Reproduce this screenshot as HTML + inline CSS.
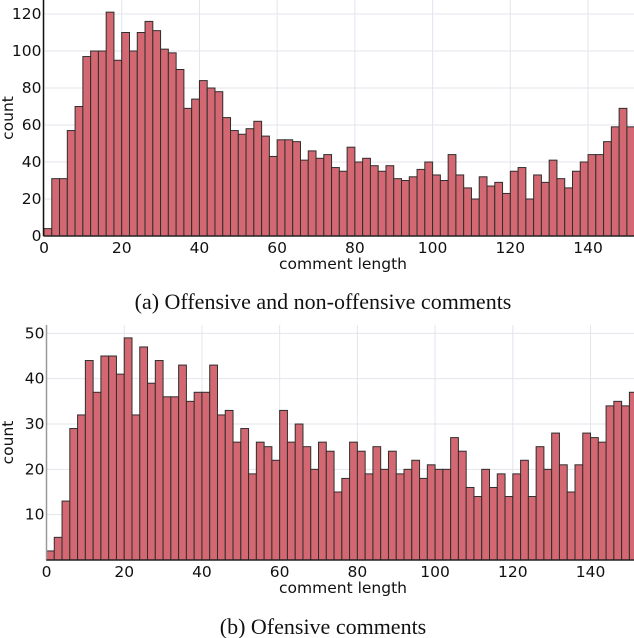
<!DOCTYPE html>
<html><head><meta charset="utf-8"><style>
body{margin:0;background:#fff;width:634px;height:638px;overflow:hidden}
svg{display:block}
.t{font-family:"DejaVu Sans","Liberation Sans",sans-serif;font-size:15.5px;fill:#111}
.cap{font-family:"Liberation Serif",serif;font-size:22px;fill:#111}
</style></head><body>
<svg id="c" width="634" height="638">
<text class="cap" x="323" y="309" text-anchor="middle">(a) Offensive and non-offensive comments</text>
<text class="cap" x="323" y="634" text-anchor="middle">(b) Ofensive comments</text>
</svg>
<script>
const binWidth = 2;
const xTicks = [0,20,40,60,80,100,120,140];
const countsAll = [4,31,31,57,70,97,100,100,121,95,110,100,110,116,111,101,99,90,69,74,84,80,78,64,57,55,58,62,54,43,52,52,51,41,46,42,44,37,35,48,40,42,38,35,38,31,30,32,36,40,33,30,44,33,26,20,32,27,29,23,35,37,20,33,29,41,31,26,35,40,44,44,51,59,69,59];
const yTicksAll = [0,20,40,60,80,100,120];
const countsOff = [2,5,13,29,32,44,37,45,45,41,49,32,47,39,44,36,36,43,35,37,37,43,32,33,26,29,19,26,25,22,33,26,30,25,20,26,24,15,18,26,24,19,25,20,24,19,20,22,18,21,20,20,27,24,16,14,20,16,19,14,19,22,14,25,20,28,21,15,21,28,27,26,34,35,34,37];
const yTicksOff = [10,20,30,40,50];

const NS="http://www.w3.org/2000/svg";
const svg=document.getElementById('c');
function mk(tag,attrs,parent){const e=document.createElementNS(NS,tag);for(const k in attrs)e.setAttribute(k,attrs[k]);(parent||svg).appendChild(e);return e;}

function chart(counts,yTicks,cfg,prefix){
  const g=mk('g',{});
  
  
  const xs=v=>cfg.x0+v*cfg.kx;
  const ys=v=>cfg.y0-v*cfg.ky;
  xTicks.forEach(t=>{
    const l=mk('line',{x1:xs(t),x2:xs(t),y1:cfg.top,y2:cfg.y0,stroke:'#e4e4ee','stroke-width':1},g);
    
    
  });
  yTicks.forEach(t=>{
    const l=mk('line',{x1:cfg.axisX,x2:634,y1:ys(t),y2:ys(t),stroke:'#e4e4ee','stroke-width':1},g);
    
    
  });
  counts.forEach((c,i)=>{
    const x1=xs(i*binWidth),x2=xs((i+1)*binWidth);
    const r=mk('rect',{x:x1,y:ys(c),width:x2-x1,height:cfg.y0-ys(c),fill:'#d46872',stroke:'#2e2e2e','stroke-width':1},g);
    
    
  });
  const ax=mk('line',{x1:cfg.axisX,x2:cfg.axisX,y1:cfg.top,y2:cfg.y0,stroke:cfg.axisColor,'stroke-width':1.5},g);
  
  
  const bx=mk('line',{x1:cfg.axisX,x2:634,y1:cfg.y0,y2:cfg.y0,stroke:'#222','stroke-width':1.5},g);
  
  
  xTicks.forEach(t=>{
    const e=mk('text',{x:xs(t),y:cfg.y0+17,'text-anchor':'middle',class:'t'},g);e.textContent=t;
    
    
  });
  yTicks.forEach(t=>{
    const e=mk('text',{x:cfg.axisX-2,y:ys(t)+5,'text-anchor':'end',class:'t'},g);e.textContent=t;
    
    
  });
  const xl=mk('text',{x:343,y:cfg.y0+33,'text-anchor':'middle',class:'t'},g);xl.textContent='comment length';
  
  
  const yl=mk('text',{x:0,y:0,'text-anchor':'middle',class:'t',transform:`translate(13,${(cfg.top+cfg.y0)/2}) rotate(-90)`},g);yl.textContent='count';
  
  
}
chart(countsAll,yTicksAll,{x0:44,kx:3.886,y0:236,ky:1.85,top:0,axisX:43.5,axisColor:'#111'},'all-comments');
chart(countsOff,yTicksOff,{x0:46.5,kx:3.886,y0:560,ky:4.533,top:325,axisX:46.5,axisColor:'#999'},'offensive');
</script>
</body></html>
